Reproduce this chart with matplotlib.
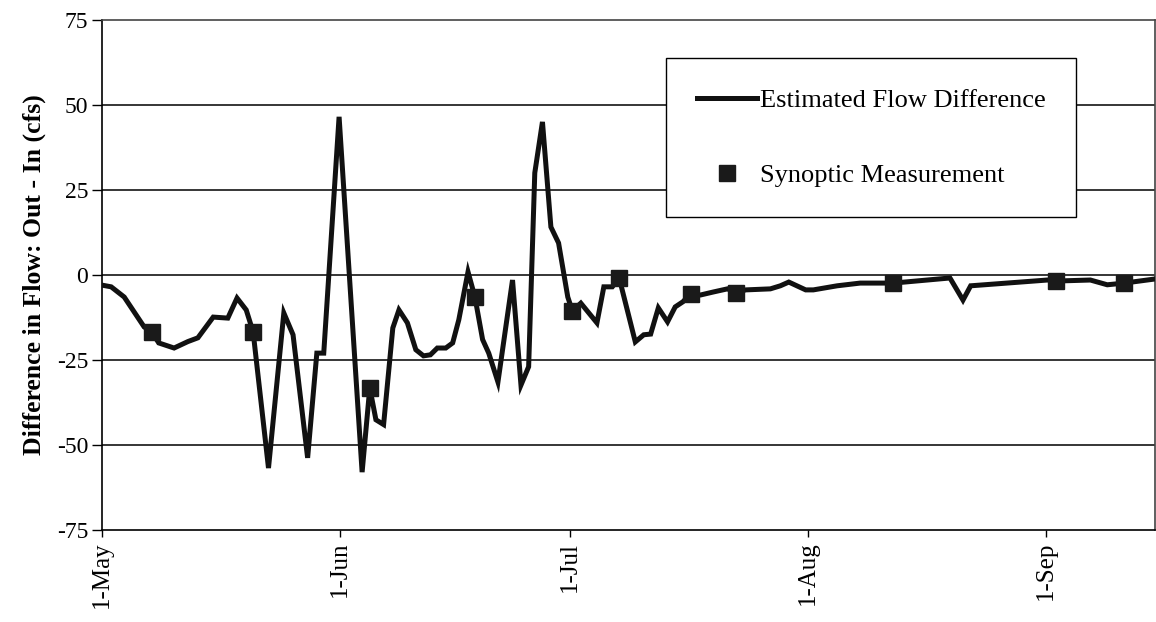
import matplotlib.pyplot as plt
import numpy as np

# days since 1-May
line_day = [0, 1.2, 2.9, 5.5, 6.5, 7.4, 9.4, 11.2, 12.5, 14.5, 16.4, 17.6, 18.8, 19.7,
            21.7, 23.7, 24.9, 26.8, 28.0, 28.9, 30.9, 33.9, 34.9, 35.7, 36.7, 37.9,
            38.7, 39.8, 40.9, 41.9, 42.8, 43.7, 44.8, 45.7, 46.5, 47.7, 48.6, 49.6,
            50.4, 51.6, 53.5, 54.6, 55.6, 56.4, 57.4, 58.5, 59.5, 60.7, 61.3, 62.4,
            64.5, 65.4, 66.5, 67.4, 69.5, 70.6, 71.5, 72.5, 73.7, 74.7, 75.7, 76.7,
            78.0, 79.7, 81.5, 82.6, 83.9, 87.1, 88.4, 89.5, 91.7, 92.7, 95.8, 98.8,
            103.1, 110.5, 112.2, 113.2, 123.2, 124.3, 128.8, 131.0, 133.2, 137.2]
line_val = [-3, -3.5, -6.5, -15.3, -16.8, -20, -21.5, -19.6, -18.5, -12.4, -12.7, -6.8,
            -10.3, -16.8, -56.8, -11.2, -17.6, -53.8, -23, -23, 46.5, -58, -33.2, -42.6,
            -44, -15.6, -10.3, -14.1, -22, -23.8, -23.5, -21.5, -21.5, -20, -13.2, 0.9,
            -6.5, -19, -23, -31.5, -1.5, -32.4, -27, 30, 45, 14.1, 9.4, -6.5, -10.6,
            -8.3, -14.1, -3.5, -3.5, -0.9, -19.7, -17.6, -17.4, -9.7, -13.8, -9.4, -7.9,
            -5.6, -5.9, -5.0, -4.1, -5.2, -4.4, -4.1, -3.2, -2.1, -4.4, -4.4, -3.2, -2.4,
            -2.4, -0.9, -7.4, -3.2, -1.5, -1.8, -1.5, -2.9, -2.4, -1.2]

syn_day = [6.5, 19.7, 34.9, 48.6, 61.3, 67.4, 76.7, 82.6, 103.1, 124.3, 133.2]
syn_val = [-16.8, -16.8, -33.2, -6.5, -10.6, -0.9, -5.6, -5.3, -2.4, -1.8, -2.4]

tick_days = [0, 31, 61, 92, 123]
tick_labels = ['1-May', '1-Jun', '1-Jul', '1-Aug', '1-Sep']

plt.rcParams['font.family'] = 'Liberation Serif'
plt.rcParams['axes.unicode_minus'] = False

fig = plt.figure(figsize=(11.56, 6.22), dpi=100)
ax = fig.add_axes([0.0882, 0.148, 0.9108, 0.82])

for yv in [-50, -25, 0, 25, 50]:
    ax.axhline(yv, color='black', lw=1.1, zorder=1)

ax.plot(line_day, line_val, color='#111111', lw=3.6, solid_joinstyle='miter',
        label='Estimated Flow Difference', zorder=3)
ax.plot(syn_day, syn_val, ls='none', marker='s', ms=11, color='#1a1a1a',
        label='Synoptic Measurement', zorder=4)

ax.set_xlim(0, 137.2)
ax.set_ylim(-75, 75)
ax.set_yticks(np.arange(-75, 76, 25))
ax.set_xticks(tick_days)
ax.set_xticklabels(tick_labels, rotation=90, fontsize=18)
ax.tick_params(axis='y', labelsize=17, direction='out', length=7, width=1, pad=3)
ax.tick_params(axis='x', direction='out', length=5, width=1)
ax.set_ylabel('Difference in Flow: Out - In (cfs)', fontsize=18.5, fontweight='bold', labelpad=8)

for s in ax.spines.values():
    s.set_color('black')
    s.set_linewidth(1.2)
ax.spines['top'].set_color('#444444')
ax.spines['right'].set_color('#444444')

leg = ax.legend(loc='upper left', bbox_to_anchor=(0.536, 0.925, 0.389, 0.0), mode='expand',
                fontsize=19, frameon=True, fancybox=False, edgecolor='black',
                framealpha=1, labelspacing=1.95, handlelength=2.3, handletextpad=0.1,
                borderpad=1.15, borderaxespad=0)
leg.get_frame().set_linewidth(1.0)

fig.savefig('out.png', dpi=100)
